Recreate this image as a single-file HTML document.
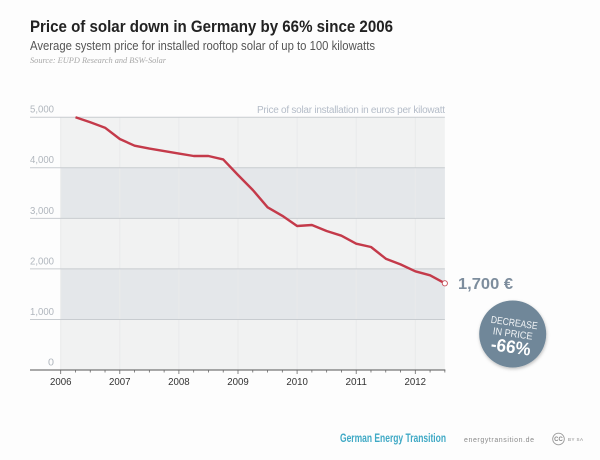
<!DOCTYPE html>
<html>
<head>
<meta charset="utf-8">
<style>
html,body{margin:0;padding:0;width:600px;height:460px;background:#fdfdfd;overflow:hidden}
svg{display:block}
text{font-family:"Liberation Sans",sans-serif}
</style>
</head>
<body>
<svg id="chart" width="600" height="460" viewBox="0 0 600 460" xmlns="http://www.w3.org/2000/svg">
  <defs>
    <filter id="badge-shadow" x="-20%" y="-20%" width="140%" height="140%">
      <feDropShadow dx="0.5" dy="1.5" stdDeviation="1.5" flood-color="#000" flood-opacity="0.25"/>
    </filter>
  </defs>
  <text x="30" y="32" font-size="16.5" font-weight="700" fill="#222" textLength="363" lengthAdjust="spacingAndGlyphs">Price of solar down in Germany by 66% since 2006</text>
  <text x="30" y="50" font-size="12.5" fill="#555" textLength="345" lengthAdjust="spacingAndGlyphs">Average system price for installed rooftop solar of up to 100 kilowatts</text>
  <text x="30" y="63" font-size="8" font-style="italic" fill="#a8a8a8" style="font-family:'Liberation Serif',serif" textLength="136" lengthAdjust="spacingAndGlyphs">Source: EUPD Research and BSW-Solar</text>

  <g id="plot"></g>

  <text x="257" y="113" font-size="10" fill="#b4bcc8" textLength="188" lengthAdjust="spacing">Price of solar installation in euros per kilowatt</text>
  <text x="458" y="289" font-size="16" font-weight="700" fill="#7d8d9d" textLength="55" lengthAdjust="spacingAndGlyphs">1,700 €</text>

  <g transform="translate(512.7 334)">
    <circle r="33.5" fill="#6f8799" filter="url(#badge-shadow)"/>
    <g transform="rotate(8)" text-anchor="middle" fill="#fff">
      <text x="0" y="-8" font-size="10" fill="#f1f4f6" textLength="47" lengthAdjust="spacingAndGlyphs">DECREASE</text>
      <text x="0" y="3" font-size="10" fill="#f1f4f6" textLength="40" lengthAdjust="spacingAndGlyphs">IN PRICE</text>
      <text x="0" y="19" font-size="18" font-weight="700" textLength="40" lengthAdjust="spacingAndGlyphs">-66%</text>
    </g>
  </g>

  <text x="340" y="442" font-size="11.5" font-weight="700" fill="#3fa9c5" textLength="106" lengthAdjust="spacingAndGlyphs">German Energy Transition</text>
  <text x="464" y="442" font-size="7" fill="#8a8a8a" textLength="70" lengthAdjust="spacing">energytransition.de</text>
  <g>
    <circle cx="558.5" cy="439" r="5.8" fill="none" stroke="#999" stroke-width="0.9"/>
    <text x="558.5" y="441.2" font-size="6" font-weight="700" fill="#888" text-anchor="middle">CC</text>
    <text x="568" y="441" font-size="4.5" fill="#888" textLength="15">BY SA</text>
  </g>
</svg>
<script>
var quarters = [2006.25,2006.5,2006.75,2007,2007.25,2007.5,2007.75,2008,2008.25,2008.5,2008.75,2009,2009.25,2009.5,2009.75,2010,2010.25,2010.5,2010.75,2011,2011.25,2011.5,2011.75,2012,2012.25,2012.5];
var prices = [5000,4900,4793,4570,4437,4380,4330,4280,4233,4233,4167,3857,3560,3218,3050,2849,2868,2750,2657,2498,2433,2202,2090,1952,1873,1715];
var yTicks = [0,1000,2000,3000,4000,5000];
var yTickLabels = ['0','1,000','2,000','3,000','4,000','5,000'];
var xYears = [2006,2007,2008,2009,2010,2011,2012];
var bandRanges = [[3000,4000],[1000,2000]];

var NS = 'http://www.w3.org/2000/svg';
var plot = document.getElementById('plot');
function xScale(t){ return 60.7 + (t - 2006) * 59.1; }
function yScale(v){ return 370 - v * 0.05055; }
var xEnd = xScale(2012.5);
var ns = function(tag, attrs, text){
  var el = document.createElementNS(NS, tag);
  for (var k in attrs) el.setAttribute(k, attrs[k]);
  if (text !== undefined) el.textContent = text;
  plot.appendChild(el);
  return el;
};
var el;
el = ns('rect', {x:xScale(2006), y:yScale(5000), width:xEnd-xScale(2006), height:yScale(0)-yScale(5000), fill:'#f1f2f2'});


bandRanges.forEach(function(b){
  var r = ns('rect', {x:xScale(2006), y:yScale(b[1]), width:xEnd-xScale(2006), height:yScale(b[0])-yScale(b[1]), fill:'#e4e7ea'});
  
  
});
xYears.forEach(function(y){
  var l = ns('line', {x1:xScale(y), x2:xScale(y), y1:yScale(5000), y2:yScale(0), stroke:'#e9eaeb', 'stroke-width':1});
  
  
});
yTicks.forEach(function(v, i){
  if (v > 0) {
    var g = ns('line', {x1:30, x2:xEnd, y1:yScale(v), y2:yScale(v), stroke:'#c8ccd0', 'stroke-width':1});
    
    
  }
  var t = ns('text', {x:54, y:yScale(v)-4.6, 'text-anchor':'end', 'font-size':10.5, fill:'#b0b6bd', textLength: v > 0 ? 24 : 6, lengthAdjust:'spacingAndGlyphs'}, yTickLabels[i]);
  
  
});
el = ns('line', {x1:30, x2:xEnd+0.5, y1:yScale(0), y2:yScale(0), stroke:'#555', 'stroke-width':1});


for (var q = 0; q <= 26; q++) {
  var tickTime = 2006 + q / 4;
  var major = q % 4 === 0;
  var tk = ns('line', {x1:xScale(tickTime), x2:xScale(tickTime), y1:yScale(0), y2:yScale(0)+(major?4:2.5), stroke:'#666', 'stroke-width':0.8});
  
  
}
xYears.forEach(function(y){
  var t = ns('text', {x:xScale(y), y:385, 'text-anchor':'middle', 'font-size':10.5, fill:'#333', textLength:21.5, lengthAdjust:'spacingAndGlyphs'}, String(y));
  
  
});
var pts = quarters.map(function(t, i){ return xScale(t).toFixed(1) + ',' + yScale(prices[i]).toFixed(1); }).join(' ');
el = ns('polyline', {points:pts, fill:'none', stroke:'#c43a4a', 'stroke-width':2.4, 'stroke-linejoin':'round', 'stroke-linecap':'butt'});


var last = quarters.length - 1;
el = ns('circle', {cx:xScale(quarters[last]), cy:yScale(prices[last]), r:2.6, fill:'#fff', stroke:'#c8505c', 'stroke-width':0.9});


</script>
</body>
</html>
